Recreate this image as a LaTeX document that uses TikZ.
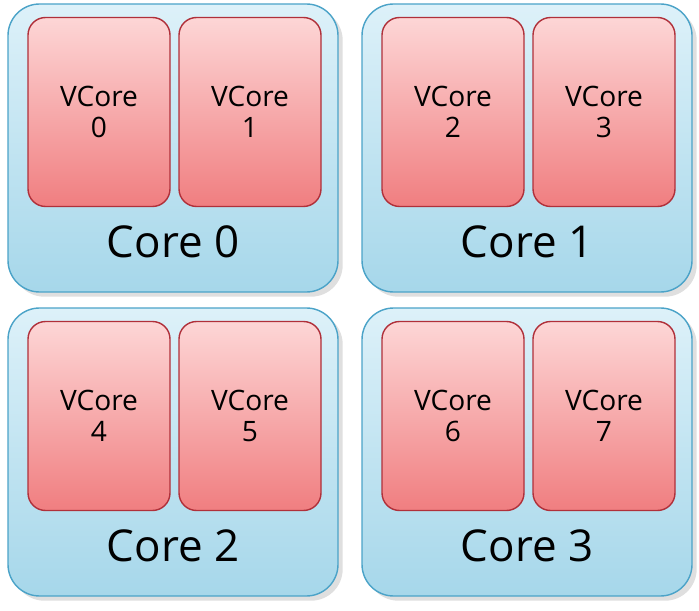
\documentclass[tikz,border=0pt]{standalone}
\usepackage{fontspec}
\setmainfont{Open Sans}
\usetikzlibrary{shadows}
\definecolor{coretop}{HTML}{DDF1F9}
\definecolor{corebot}{HTML}{A6D7EA}
\definecolor{coreline}{HTML}{4BA3C8}
\definecolor{vtop}{HTML}{FDD6D6}
\definecolor{vbot}{HTML}{F07E80}
\definecolor{vline}{HTML}{B0303A}
\tikzset{
  core/.style={draw=coreline, line width=0.8pt, rounded corners=18pt,
    top color=coretop, bottom color=corebot, minimum width=330*0.02cm,
    minimum height=288*0.02cm, drop shadow={opacity=0.25}},
  vcore/.style={draw=vline, line width=0.8pt, rounded corners=10pt,
    top color=vtop, bottom color=vbot, minimum width=142*0.02cm,
    minimum height=189*0.02cm, align=center, font=\fontsize{16}{18}\selectfont},
  corelabel/.style={font=\fontsize{25}{28}\selectfont}
}
\begin{document}
\begin{tikzpicture}[x=0.02cm,y=-0.02cm]
  \useasboundingbox (0,0) rectangle (699,611);

  \foreach \c/\x/\y in {0/173/148, 1/527/148, 2/173/452, 3/527/452} {
    \node [core] (core\c) at (\x,\y) {};
    \node [corelabel] (lab\c) at (\x,\y+94) {Core \c};
  }

  \foreach \c/\a/\b in {0/0/1, 1/2/3, 2/4/5, 3/6/7} {
    \node [vcore] (v\a) at ([xshift=-74*0.02cm, yshift=36*0.02cm]core\c.center) {VCore\\\a};
    \node [vcore] (v\b) at ([xshift=77*0.02cm, yshift=36*0.02cm]core\c.center) {VCore\\\b};
  }
\end{tikzpicture}
\end{document}
